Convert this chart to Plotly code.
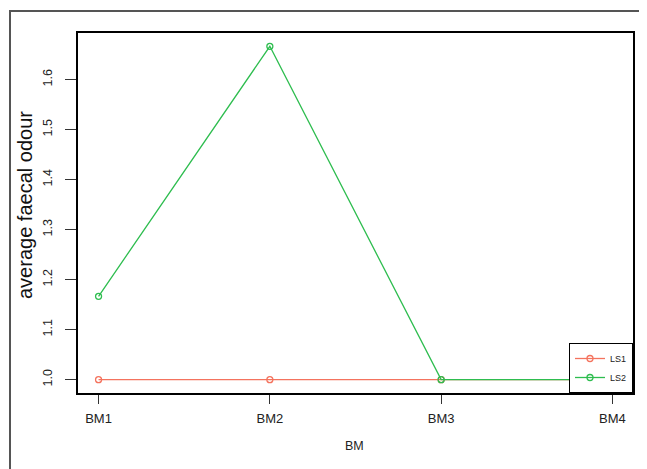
import plotly.graph_objects as go

categories = ["BM1", "BM2", "BM3", "BM4"]
ls1_values = [1.0, 1.0, 1.0, 1.0]
ls2_values = [1.1667, 1.6667, 1.0, 1.0]
y_ticks = [1.0, 1.1, 1.2, 1.3, 1.4, 1.5, 1.6]
y_tick_labels = ["1.0", "1.1", "1.2", "1.3", "1.4", "1.5", "1.6"]

# page body has an 8px margin; figure occupies the rest of the 647x469 window
OFF = 8
W, H = 647 - OFF, 469 - OFF
L, R, T, B = 78 - OFF, 633 - OFF, 33 - OFF, 393 - OFF

x_pos = [1, 2, 3, 4]

fig = go.Figure()
fig.add_trace(go.Scatter(x=x_pos, y=ls1_values, name="LS1", mode="lines+markers",
                         line=dict(color="#F4735E", width=1.3),
                         marker=dict(symbol="circle-open", size=6, color="#F4735E", line=dict(width=1.3))))
fig.add_trace(go.Scatter(x=x_pos, y=ls2_values, name="LS2", mode="lines+markers",
                         line=dict(color="#2EBD4F", width=1.3),
                         marker=dict(symbol="circle-open", size=6, color="#2EBD4F", line=dict(width=1.3))))

font = "Liberation Sans, Arial, sans-serif"
fig.update_layout(
    width=W, height=H,
    margin=dict(l=0, r=0, t=0, b=0),
    paper_bgcolor="white", plot_bgcolor="white",
    font=dict(family=font, size=12, color="#222"),
    xaxis=dict(domain=[L / W, R / W], range=[0.88, 4.12], tickmode="array",
               tickvals=x_pos, ticktext=categories, showgrid=False, zeroline=False,
               showline=True, linecolor="black", linewidth=1.5, mirror=True,
               ticks="outside", ticklen=9, tickcolor="#333", tickwidth=1,
               ticklabelstandoff=4,
               tickfont=dict(size=13, family=font)),
    yaxis=dict(domain=[1 - B / H, 1 - T / H], range=[0.9733, 1.6933], tickmode="array",
               tickvals=y_ticks, ticktext=y_tick_labels, showgrid=False, zeroline=False,
               showline=True, linecolor="black", linewidth=1.5, mirror=True,
               ticks="outside", ticklen=11, tickcolor="#333", tickwidth=1,
               ticklabelstandoff=8,
               tickangle=-90, tickfont=dict(size=12.5, family=font)),
    legend=dict(x=R / W, y=1 - B / H, xanchor="right", yanchor="bottom",
                bgcolor="white", bordercolor="black", borderwidth=1,
                font=dict(size=9, family=font), tracegroupgap=0, itemwidth=30),
    showlegend=True,
)

fig.add_annotation(x=(25 - OFF) / W, y=1 - (205 - OFF) / H, xref="paper", yref="paper",
                   xanchor="center", yanchor="middle",
                   text="average faecal odour", textangle=-90, showarrow=False,
                   font=dict(size=20, family=font, color="#111"))
fig.add_annotation(x=(354 - OFF) / W, y=1 - (446 - OFF) / H, xref="paper", yref="paper",
                   xanchor="center", yanchor="middle",
                   text="BM", showarrow=False, font=dict(size=12.5, family=font, color="#222"))

# outer frame (left and top edges)
fx, fy = (10 - OFF) / W, 1 - (11 - OFF) / H
fig.add_shape(type="path", xref="paper", yref="paper",
              path=f"M {fx},0 L {fx},{fy} L 1,{fy}",
              line=dict(color="#555", width=2))

fig.write_html("out.html")
